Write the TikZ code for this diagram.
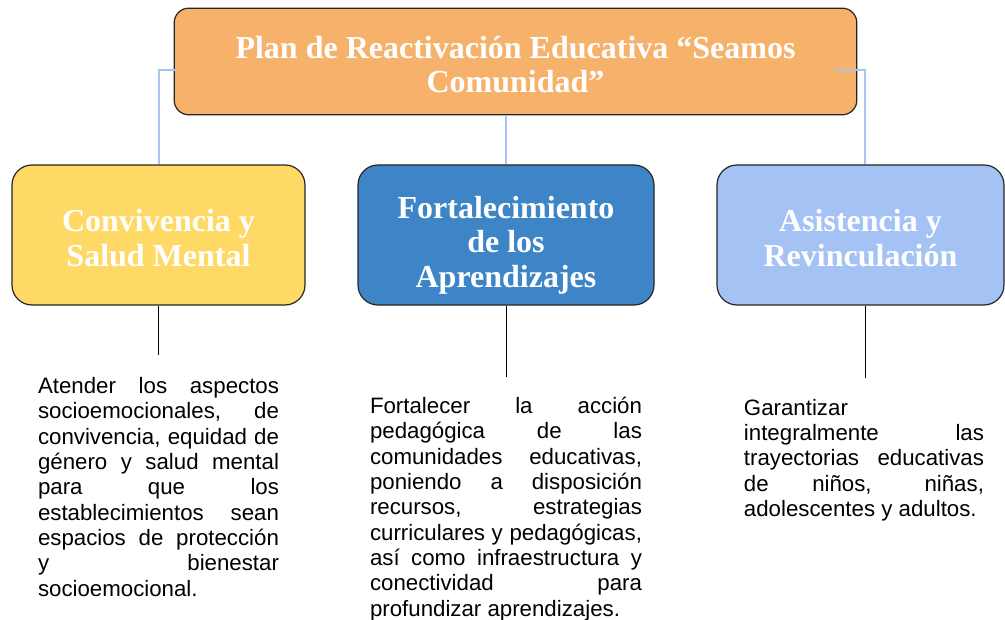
\documentclass[tikz,border=0pt]{standalone}
\usepackage{fontspec}
\setmainfont{Liberation Serif}
\newfontfamily\arialfont{Liberation Sans}
\usetikzlibrary{positioning, calc}
\definecolor{planorange}{HTML}{F6B26B}
\definecolor{convyellow}{HTML}{FFD966}
\definecolor{fortblue}{HTML}{3D85C6}
\definecolor{asislight}{HTML}{A4C2F4}
\definecolor{linkblue}{HTML}{A9C4F2}

\tikzset{
  areabox/.style={draw=black!85, line width=0.9pt, rounded corners=15pt, minimum height=105pt},
  areatitle/.style={align=center, text=white, font=\fontsize{24}{26}\selectfont\bfseries},
  desc/.style={inner sep=0pt, align=justify, font=\arialfont\fontsize{16.7}{19}\selectfont, execute at begin node={\tolerance=10000\relax\hyphenpenalty=10000\relax}},
  link/.style={linkblue, line width=1.5pt},
  stem/.style={black, line width=0.7pt}
}

\begin{document}
\begin{tikzpicture}[x=0.75pt, y=-0.75pt]
  \useasboundingbox (0,0) rectangle (1005,620);

  % Plan
  \node[draw=black!85, line width=0.9pt, fill=planorange, rounded corners=11pt, minimum width=512pt, minimum height=80pt] (plan) at (515.5,61.5) {};
  \node[areatitle] (plantitle) at (515.5,64.5) {Plan de Reactivación Educativa “Seamos\\Comunidad”};

  % Three areas
  \node[areabox, fill=convyellow, minimum width=219.75pt] (conv) at (158.5,235) {};
  \node[areabox, fill=fortblue, minimum width=222pt] (fort) at (506,235) {};
  \node[areabox, fill=asislight, minimum width=215.25pt] (asis) at (860.5,235) {};

  \node[areatitle] (convtitle) at (158.5,238) {Convivencia y\\Salud Mental};
  \node[areatitle] (forttitle) at (506,245) {Fortalecimiento\\de los\\Aprendizajes};
  \node[areatitle] (asistitle) at (860.5,238) {Asistencia y\\Revinculación};

  % Links to the plan
  \draw[link] ($(plan.west)+(2,8.5)$) -| (conv.north);
  \draw[link] (plan.south -| fort.north) -- (fort.north);
  \draw[link] ($(plan.east)+(-22,8.5)$) -| ($(asis.north)+(4.5,0)$);

  % Descriptions
  \node[desc, text width=180.75pt, below=53.5pt of conv] (convtext) {Atender los aspectos\linebreak socioemocionales, de\linebreak convivencia, equidad de\linebreak género y salud mental\linebreak para que los\linebreak establecimientos sean\linebreak espacios de protección\linebreak y bienestar\linebreak socioemocional.};
  \node[desc, text width=204pt, below=68.5pt of fort] (forttext) {Fortalecer la acción\linebreak pedagógica de las\linebreak comunidades educativas,\linebreak poniendo a disposición\linebreak recursos, estrategias\linebreak curriculares y pedagógicas,\linebreak así como infraestructura y\linebreak conectividad para\linebreak profundizar aprendizajes.};
  \node[desc, text width=180pt, below=69.75pt of asis, xshift=2.6pt] (asistext) {Garantizar\\ integralmente las\linebreak trayectorias educativas\linebreak de niños, niñas,\linebreak adolescentes y adultos.};

  \draw[stem] (conv.south) -- ($(conv.south |- convtext.north)+(0,-21.5)$);
  \draw[stem] (fort.south) -- ($(fort.south |- forttext.north)+(0,-19.5)$);
  \draw[stem] ($(asis.south)+(4.5,0)$) -- ($(asis.south |- asistext.north)+(4.5,-21)$);
\end{tikzpicture}
\end{document}
